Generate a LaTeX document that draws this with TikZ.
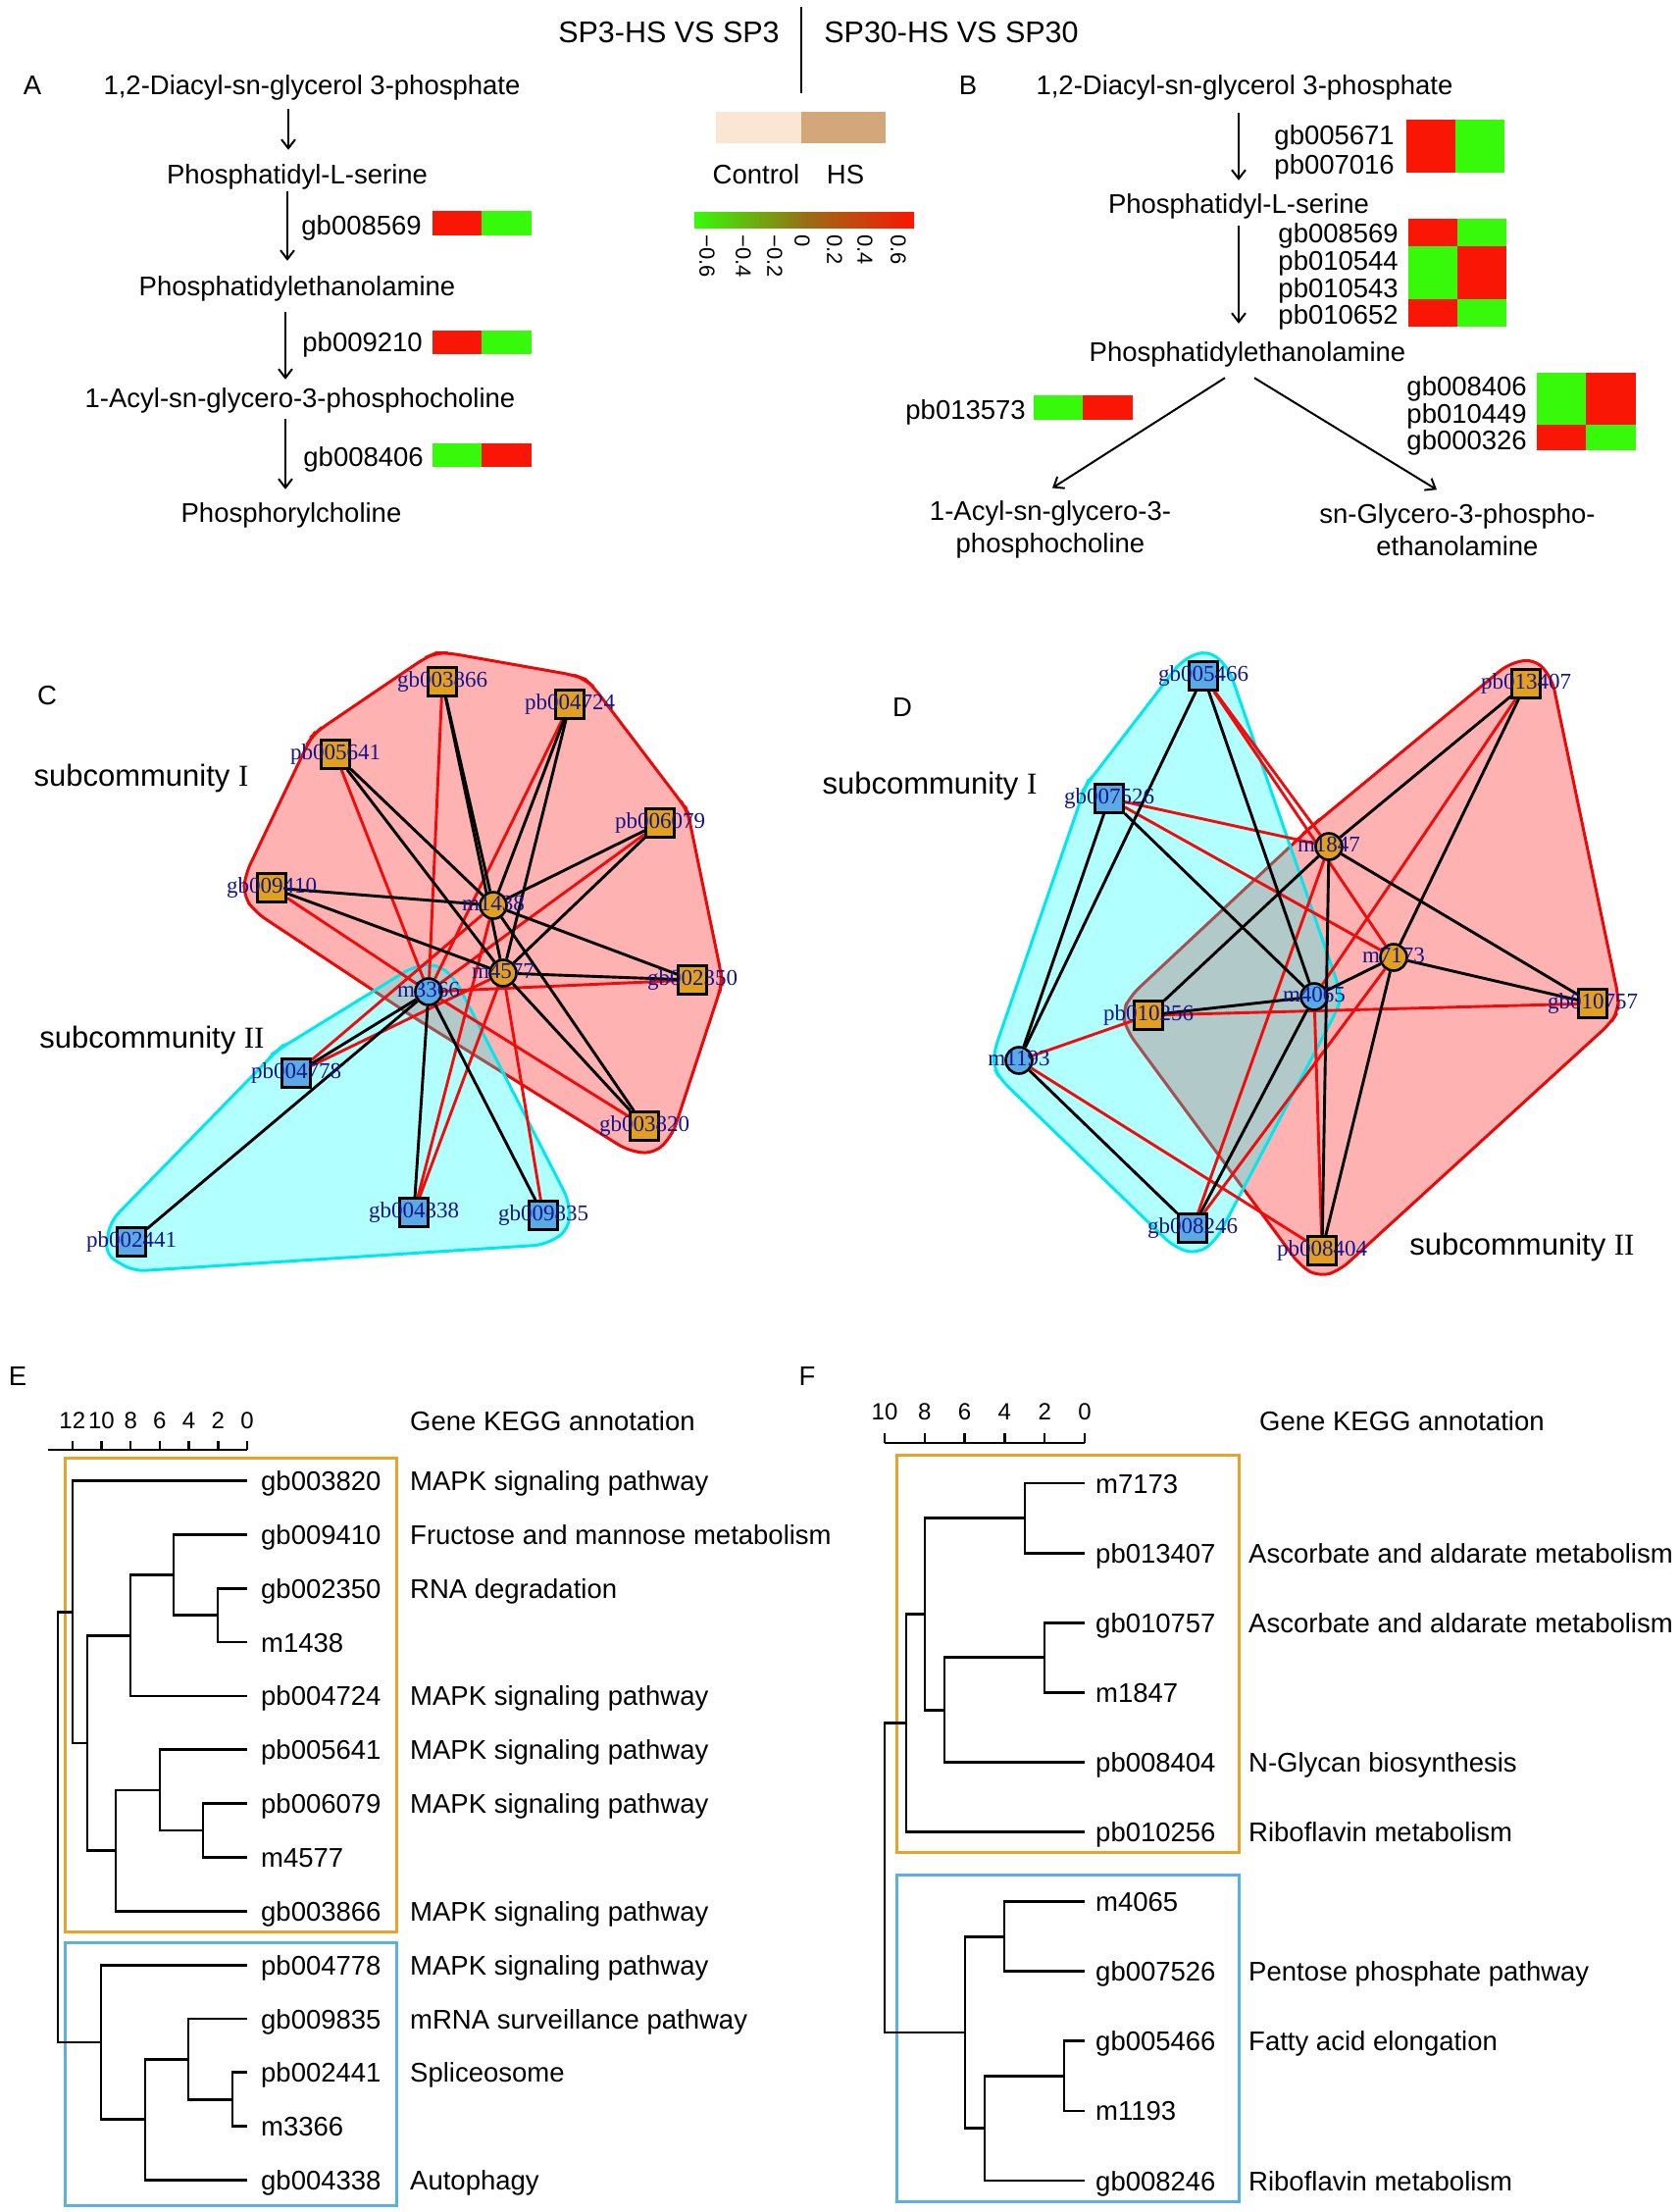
\documentclass[tikz,border=0pt]{standalone}
\usepackage{fontspec}
\setmainfont{Liberation Sans}
\newfontfamily\tms{Liberation Serif}
\usetikzlibrary{calc,arrows.meta}
\pgfdeclarelayer{bgw}
\pgfdeclarelayer{hulls}
\pgfdeclarelayer{edges}
\pgfsetlayers{bgw,hulls,edges,main}
\definecolor{hred}{RGB}{250,22,5}
\definecolor{hgreen}{RGB}{55,250,10}
\definecolor{gmid}{RGB}{150,112,20}
\definecolor{ctrlc}{RGB}{250,230,210}
\definecolor{hsc}{RGB}{211,167,122}
\definecolor{nodeor}{RGB}{226,160,32}
\definecolor{nodebl}{RGB}{90,170,230}
\definecolor{lblue}{RGB}{20,20,140}
\definecolor{boxor}{RGB}{232,163,40}
\definecolor{boxbl}{RGB}{90,176,224}
\definecolor{hullred}{RGB}{232,10,10}
\definecolor{hullcyan}{RGB}{0,232,238}
\definecolor{hullfr}{RGB}{255,0,0}
\definecolor{hullfc}{RGB}{0,255,255}
\definecolor{edgered}{RGB}{240,12,12}
\newcommand\hullpt[5]{%
  \coordinate (#1a) at ($(#3.center)!#5!-90:(#2.center)$);
  \coordinate (#1b) at ($(#3.center)!#5!90:(#4.center)$);
  \coordinate (#1m) at ($(#1a)!.5!(#1b)$);
  \coordinate (#1c) at ($(#3.center)!#5!(#1m)$);}
\begin{document}
\begin{tikzpicture}[x=1pt,y=-1pt,
  mt/.style={font=\fontsize{27.5}{33}\selectfont, inner sep=0pt, text height=20pt, text depth=6pt},
  ht/.style={font=\fontsize{30.5}{36}\selectfont, inner sep=0pt, text height=22pt, text depth=6pt},
  st/.style={font=\fontsize{31}{36}\selectfont, inner sep=0pt, text height=23pt, text depth=7pt},
  tk/.style={font=\fontsize{24}{28}\selectfont, inner sep=0pt, text height=17pt, text depth=0pt},
  ctk/.style={font=\fontsize{22}{26}\selectfont, inner sep=0pt, rotate=-90, anchor=west},
  arr/.style={line width=2pt, -{Straight Barb[length=9pt,width=14pt]}},
  nsq/.style={rectangle, draw=black, line width=2.6pt, minimum size=29pt, inner sep=0pt},
  ncr/.style={circle, draw=black, line width=2.6pt, minimum size=27pt, inner sep=0pt},
  orn/.style={fill=nodeor}, bln/.style={fill=nodebl},
  nl/.style={font=\tms\fontsize{23}{23}\selectfont, text=lblue, inner sep=0pt, text height=16pt, text depth=5pt},
  be/.style={line width=2.9pt, black},
  re/.style={line width=2.9pt, edgered},
  hr/.style={fill=hullfr, fill opacity=0.3, draw=hullred, line width=3pt, rounded corners=12pt},
  hc/.style={fill=hullfc, fill opacity=0.3, draw=hullcyan, line width=3pt, rounded corners=12pt},
  dl/.style={line width=2.8pt, black},
  bo/.style={draw=boxor, line width=3pt},
  bb/.style={draw=boxbl, line width=3pt}]
\useasboundingbox (0,0) rectangle (1713,2255);
\begin{pgfonlayer}{bgw}
\fill[white] (0,0) rectangle (1713,2255);
\end{pgfonlayer}

% ---------- header / legend ----------
\node[ht] (h1) at (682,35) {SP3-HS VS SP3};
\node[ht] (h2) at (970,35) {SP30-HS VS SP30};
\draw[line width=2.5pt] (817,7) -- (817,95);
\fill[ctrlc] (730,114) rectangle (817,146);
\fill[hsc] (817,114) rectangle (903,146);
\node[mt] (lc) at (771,180) {Control};
\node[mt] (lh) at (862,180) {HS};
\shade[left color=hgreen, right color=gmid] (708,216) rectangle (820,232);
\shade[left color=gmid, right color=hred] (819.5,216) rectangle (932,232);
\node[ctk] (t1) at (721,239) {−0.6};
\node[ctk] (t2) at (758,239) {−0.4};
\node[ctk] (t3) at (790,239) {−0.2};
\node[ctk] (t4) at (818,239) {0};
\node[ctk] (t5) at (851,239) {0.2};
\node[ctk] (t6) at (882,239) {0.4};
\node[ctk] (t7) at (916,239) {0.6};

% ---------- panel A ----------
\node[mt] (lA) at (33,89) {A};
\node[mt] (tA1) at (318,89) {1,2-Diacyl-sn-glycerol 3-phosphate};
\node[mt] (tA2) at (303,180) {Phosphatidyl-L-serine};
\node[mt] (tA3) at (303,294) {Phosphatidylethanolamine};
\node[mt] (tA4) at (306,408) {1-Acyl-sn-glycero-3-phosphocholine};
\node[mt] (tA5) at (297,525) {Phosphorylcholine};
\draw[arr] ($(tA1.south)+(-24,9)$) -- ($(tA2.north)+(-9,-14)$);
\draw[arr] ($(tA2.south)+(-10,2)$) -- ($(tA3.north)+(-10,-15)$);
\draw[arr] ($(tA3.south)+(-12,11)$) -- ($(tA4.north)+(-15,-8)$);
\draw[arr] ($(tA4.south)+(-15,6)$) -- ($(tA5.north)+(-6,-13)$);
\node[mt,anchor=east] (gA1) at (430,232) {gb008569};
\node[mt,anchor=east] (gA2) at (431,351) {pb009210};
\node[mt,anchor=east] (gA3) at (432,468) {gb008406};
\fill[hred] (441,215) rectangle (491,240); \fill[hgreen] (491,215) rectangle (542,240);
\fill[hred] (441,337) rectangle (491,361); \fill[hgreen] (491,337) rectangle (542,361);
\fill[hgreen] (441,452) rectangle (491,476); \fill[hred] (491,452) rectangle (542,476);

% ---------- panel B ----------
\node[mt] (lB) at (987,89) {B};
\node[mt] (tB1) at (1269,89) {1,2-Diacyl-sn-glycerol 3-phosphate};
\node[mt] (tB2) at (1263,210) {Phosphatidyl-L-serine};
\node[mt] (tB3) at (1272,361) {Phosphatidylethanolamine};
\node[mt,align=center,text height=,text depth=] (tB4) at (1071,540) {1-Acyl-sn-glycero-3-\\phosphocholine};
\node[mt,align=center,text height=,text depth=] (tB5) at (1486,540) {sn-Glycero-3-phospho-\\ethanolamine};
\draw[arr] ($(tB1.south)+(-6,13)$) -- ($(tB2.north)+(0,-13)$);
\draw[arr] ($(tB2.south)+(0,7)$) -- ($(tB3.north)+(-9,-18)$);
\draw[arr] ($(tB3.south)+(-23,11)$) -- ($(tB4.north)+(2,-13)$);
\draw[arr] ($(tB3.south)+(7,11)$) -- ($(tB5.north)+(-21,-14)$);
\node[mt,anchor=east] (gB1) at (1422,140) {gb005671};
\node[mt,anchor=east] (gB2) at (1422,170) {pb007016};
\fill[hred] (1434,122) rectangle (1484,176); \fill[hgreen] (1484,122) rectangle (1534,176);
\node[mt,anchor=east] (gB3) at (1426,240) {gb008569};
\node[mt,anchor=east] (gB4) at (1426,268) {pb010544};
\node[mt,anchor=east] (gB5) at (1426,296) {pb010543};
\node[mt,anchor=east] (gB6) at (1426,323) {pb010652};
\fill[hred] (1436,223) rectangle (1486,251); \fill[hgreen] (1486,223) rectangle (1536,251);
\fill[hgreen] (1436,251) rectangle (1486,278); \fill[hred] (1486,251) rectangle (1536,278);
\fill[hgreen] (1436,278) rectangle (1486,305); \fill[hred] (1486,278) rectangle (1536,305);
\fill[hred] (1436,305) rectangle (1486,333); \fill[hgreen] (1486,305) rectangle (1536,333);
\node[mt,anchor=east] (gB7) at (1046,420) {pb013573};
\fill[hgreen] (1054,403) rectangle (1104,428); \fill[hred] (1104,403) rectangle (1155,428);
\node[mt,anchor=east] (gB8) at (1557,396) {gb008406};
\node[mt,anchor=east] (gB9) at (1557,424) {pb010449};
\node[mt,anchor=east] (gB10) at (1557,451) {gb000326};
\fill[hgreen] (1567,380) rectangle (1617,406.5); \fill[hred] (1617,380) rectangle (1668,406.5);
\fill[hgreen] (1567,406.5) rectangle (1617,433); \fill[hred] (1617,406.5) rectangle (1668,433);
\fill[hred] (1567,433) rectangle (1617,459); \fill[hgreen] (1617,433) rectangle (1668,459);

% ---------- panel C ----------
\node[mt] (lC) at (48,711) {C};
\node[st] (sC1) at (144,793) {subcommunity {\tms I}};
\node[st] (sC2) at (155,1060) {subcommunity {\tms II}};
\node[nsq,orn,label={[nl]center:gb003866}] (gb003866) at (451,695) {};
\node[nsq,orn,label={[nl]center:pb004724}] (pb004724) at (581,718) {};
\node[nsq,orn,label={[nl]center:pb005641}] (pb005641) at (342,769) {};
\node[nsq,orn,label={[nl]center:pb006079}] (pb006079) at (673,839) {};
\node[nsq,orn,label={[nl]center:gb009410}] (gb009410) at (277,905) {};
\node[ncr,orn,label={[nl]center:m1438}] (m1438) at (503,923) {};
\node[ncr,orn,label={[nl]center:m4577}] (m4577) at (513,992) {};
\node[nsq,orn,label={[nl]center:gb002350}] (gb002350) at (706,999) {};
\node[ncr,bln,label={[nl]center:m3366}] (m3366) at (437,1011) {};
\node[nsq,bln,label={[nl]center:pb004778}] (pb004778) at (302,1094) {};
\node[nsq,orn,label={[nl]center:gb003820}] (gb003820) at (657,1148) {};
\node[nsq,bln,label={[nl]center:gb004338}] (gb004338) at (422,1236) {};
\node[nsq,bln,label={[nl]center:gb009835}] (gb009835) at (554,1239) {};
\node[nsq,bln,label={[nl]center:pb002441}] (pb002441) at (134,1266) {};

% ---------- panel D ----------
\node[mt] (lD) at (920,723) {D};
\node[st] (sD1) at (948,801) {subcommunity {\tms I}};
\node[st] (sD2) at (1552,1271) {subcommunity {\tms II}};
\node[nsq,bln,label={[nl]center:gb005466}] (gb005466) at (1227,689) {};
\node[nsq,orn,label={[nl]center:pb013407}] (pb013407) at (1556,697) {};
\node[nsq,bln,label={[nl]center:gb007526}] (gb007526) at (1131,814) {};
\node[ncr,orn,label={[nl]center:m1847}] (m1847) at (1355,863) {};
\node[ncr,orn,label={[nl]center:m7173}] (m7173) at (1421,976) {};
\node[ncr,bln,label={[nl]center:m4065}] (m4065) at (1340,1016) {};
\node[nsq,orn,label={[nl]center:gb010757}] (gb010757) at (1624,1023) {};
\node[nsq,orn,label={[nl]center:pb010256}] (pb010256) at (1171,1035) {};
\node[ncr,bln,label={[nl]center:m1193}] (m1193) at (1039,1081) {};
\node[nsq,bln,label={[nl]center:gb008246}] (gb008246) at (1216,1252) {};
\node[nsq,orn,label={[nl]center:pb008404}] (pb008404) at (1348,1275) {};

% ---------- edges ----------
\begin{pgfonlayer}{edges}
\foreach \a/\b in {m3366/gb003866, m3366/pb004724, m3366/pb005641, m3366/pb006079, m3366/gb009410, m3366/gb002350, m3366/gb003820, m1438/pb004778, m1438/gb004338, m4577/pb004778, m4577/gb004338, m4577/gb009835}
  \draw[re] (\a) -- (\b);
\foreach \a/\b in {m1438/gb003866, m1438/pb004724, m1438/pb005641, m1438/pb006079, m1438/gb009410, m1438/gb002350, m1438/gb003820, m4577/gb003866, m4577/pb004724, m4577/pb005641, m4577/pb006079, m4577/gb009410, m4577/gb002350, m4577/gb003820, m3366/pb004778, m3366/pb002441, m3366/gb004338, m3366/gb009835}
  \draw[be] (\a) -- (\b);
\foreach \a/\b in {gb005466/m1847, gb005466/m7173, gb007526/m1847, gb007526/m7173, m1193/pb010256, m1193/pb008404, pb010256/gb010757, m4065/pb008404, m1847/gb008246, m7173/gb008246, pb013407/m4065}
  \draw[re] (\a) -- (\b);
\foreach \a/\b in {gb005466/m1193, gb005466/m4065, gb007526/m1193, gb007526/m4065, m1847/pb013407, m1847/pb010256, m1847/gb010757, m1847/pb008404, m7173/pb013407, m7173/m4065, m7173/gb010757, m7173/pb008404, m4065/pb010256, m4065/gb008246, m1193/gb008246}
  \draw[be] (\a) -- (\b);
\end{pgfonlayer}

% ---------- hulls ----------
\begin{pgfonlayer}{hulls}
\hullpt{cr1}{pb005641}{gb003866}{pb004724}{30pt}
\hullpt{cr2}{gb003866}{pb004724}{pb006079}{30pt}
\hullpt{cr3}{pb004724}{pb006079}{gb002350}{30pt}
\hullpt{cr4}{pb006079}{gb002350}{gb003820}{30pt}
\hullpt{cr5}{gb002350}{gb003820}{m3366}{30pt}
\hullpt{cr6}{gb003820}{m3366}{gb009410}{30pt}
\hullpt{cr7}{m3366}{gb009410}{pb005641}{30pt}
\hullpt{cr8}{gb009410}{pb005641}{gb003866}{30pt}
\filldraw[hr] (cr1a) -- (cr1c) -- (cr1b) -- (cr2a) -- (cr2c) -- (cr2b) -- (cr3a) -- (cr3c) -- (cr3b) -- (cr4a) -- (cr4c) -- (cr4b) -- (cr5a) -- (cr5c) -- (cr5b) -- (cr6a) -- (cr6c) -- (cr6b) -- (cr7a) -- (cr7c) -- (cr7b) -- (cr8a) -- (cr8c) -- (cr8b) -- cycle;
\hullpt{cc1}{pb004778}{m3366}{gb009835}{30pt}
\hullpt{cc2}{m3366}{gb009835}{pb002441}{30pt}
\hullpt{cc3}{gb009835}{pb002441}{pb004778}{30pt}
\hullpt{cc4}{pb002441}{pb004778}{m3366}{30pt}
\filldraw[hc] (cc1a) -- (cc1c) -- (cc1b) -- (cc2a) -- (cc2c) -- (cc2b) -- (cc3a) -- (cc3c) -- (cc3b) -- (cc4a) -- (cc4c) -- (cc4b) -- cycle;
\hullpt{dr1}{m1847}{pb013407}{gb010757}{27pt}
\hullpt{dr2}{pb013407}{gb010757}{pb008404}{27pt}
\hullpt{dr3}{gb010757}{pb008404}{pb010256}{27pt}
\hullpt{dr4}{pb008404}{pb010256}{m1847}{27pt}
\hullpt{dr5}{pb010256}{m1847}{pb013407}{27pt}
\filldraw[hr] (dr1a) -- (dr1c) -- (dr1b) -- (dr2a) -- (dr2c) -- (dr2b) -- (dr3a) -- (dr3c) -- (dr3b) -- (dr4a) -- (dr4c) -- (dr4b) -- (dr5a) -- (dr5c) -- (dr5b) -- cycle;
\hullpt{dc1}{gb007526}{gb005466}{m4065}{27pt}
\hullpt{dc2}{gb005466}{m4065}{gb008246}{27pt}
\hullpt{dc3}{m4065}{gb008246}{m1193}{27pt}
\hullpt{dc4}{gb008246}{m1193}{gb007526}{27pt}
\hullpt{dc5}{m1193}{gb007526}{gb005466}{27pt}
\filldraw[hc] (dc1a) -- (dc1c) -- (dc1b) -- (dc2a) -- (dc2c) -- (dc2b) -- (dc3a) -- (dc3c) -- (dc3b) -- (dc4a) -- (dc4c) -- (dc4b) -- (dc5a) -- (dc5c) -- (dc5b) -- cycle;
\end{pgfonlayer}

% ---------- panel E ----------
\node[mt] (lE) at (18,1405) {E};
\draw[line width=2.5pt] (49,1478) -- (252,1478);
\foreach \v in {0,2,...,12} {
  \draw[line width=2.5pt] (252-14.85*\v,1478) -- (252-14.85*\v,1469);
  \node[tk] at (252-14.85*\v,1448) {\v};
}
\node[mt,anchor=west] (gkE) at (418,1451) {Gene KEGG annotation};
\draw[bo] (66,1486) rectangle (404,1969);
\draw[bb] (66,1980) rectangle (404,2248);
\foreach \n/\y/\t in {1/1509.5/gb003820, 2/1564.35/gb009410, 3/1619.2/gb002350, 4/1674.05/m1438, 5/1728.9/pb004724, 6/1783.75/pb005641, 7/1838.6/pb006079, 8/1893.45/m4577, 9/1948.3/gb003866, 10/2003.15/pb004778, 11/2058/gb009835, 12/2112.85/pb002441, 13/2167.7/m3366, 14/2222.55/gb004338}
  \node[mt,anchor=west] (eL\n) at (266,\y+3) {\t};
\foreach \n/\y/\t in {1/1509.5/MAPK signaling pathway, 2/1564.35/Fructose and mannose metabolism, 3/1619.2/RNA degradation, 5/1728.9/MAPK signaling pathway, 6/1783.75/MAPK signaling pathway, 7/1838.6/MAPK signaling pathway, 9/1948.3/MAPK signaling pathway, 10/2003.15/MAPK signaling pathway, 11/2058/mRNA surveillance pathway, 12/2112.85/Spliceosome, 14/2222.55/Autophagy}
  \node[mt,anchor=west] (eA\n) at (418,\y+3) {\t};
\draw[dl] (252,1619.2) -- (222,1619.2) -- (222,1674.05) -- (252,1674.05);
\draw[dl] (252,1564.35) -- (177,1564.35) -- (177,1646.6) -- (222,1646.6);
\draw[dl] (177,1605.5) -- (133,1605.5) -- (133,1728.9) -- (252,1728.9);
\draw[dl] (252,1838.6) -- (207,1838.6) -- (207,1893.45) -- (252,1893.45);
\draw[dl] (252,1783.75) -- (163,1783.75) -- (163,1866.0) -- (207,1866.0);
\draw[dl] (163,1824.9) -- (118,1824.9) -- (118,1948.3) -- (252,1948.3);
\draw[dl] (133,1667.2) -- (89,1667.2) -- (89,1886.6) -- (118,1886.6);
\draw[dl] (252,1509.5) -- (74,1509.5) -- (74,1776.9) -- (89,1776.9);
\draw[dl] (252,2112.85) -- (237,2112.85) -- (237,2167.7) -- (252,2167.7);
\draw[dl] (252,2058) -- (192,2058) -- (192,2140.3) -- (237,2140.3);
\draw[dl] (192,2099.1) -- (148,2099.1) -- (148,2222.55) -- (252,2222.55);
\draw[dl] (252,2003.15) -- (103,2003.15) -- (103,2160.8) -- (148,2160.8);
\draw[dl] (74,1643.2) -- (59,1643.2) -- (59,2082.0) -- (103,2082.0);

% ---------- panel F ----------
\node[mt] (lF) at (823,1405) {F};
\draw[line width=2.5pt] (902,1471) -- (1106,1471);
\foreach \v in {0,2,...,10} {
  \draw[line width=2.5pt] (1106-20.4*\v,1471) -- (1106-20.4*\v,1461);
  \node[tk] at (1106-20.4*\v,1439) {\v};
}
\node[mt,anchor=west] (gkF) at (1284,1451) {Gene KEGG annotation};
\draw[bo] (914,1483) rectangle (1263,1888);
\draw[bb] (914,1911) rectangle (1263,2244);
\foreach \n/\y/\t in {1/1512/m7173, 2/1583.1/pb013407, 3/1654.2/gb010757, 4/1725.3/m1847, 5/1796.4/pb008404, 6/1867.5/pb010256, 7/1938.6/m4065, 8/2009.7/gb007526, 9/2080.8/gb005466, 10/2151.9/m1193, 11/2223/gb008246}
  \node[mt,anchor=west] (fL\n) at (1117,\y+3) {\t};
\foreach \n/\y/\t in {2/1583.1/Ascorbate and aldarate metabolism, 3/1654.2/Ascorbate and aldarate metabolism, 5/1796.4/N-Glycan biosynthesis, 6/1867.5/Riboflavin metabolism, 8/2009.7/Pentose phosphate pathway, 9/2080.8/Fatty acid elongation, 11/2223/Riboflavin metabolism}
  \node[mt,anchor=west] (fA\n) at (1273,\y+3) {\t};
\draw[dl] (1106,1512) -- (1045,1512) -- (1045,1583.1) -- (1106,1583.1);
\draw[dl] (1106,1654.2) -- (1065,1654.2) -- (1065,1725.3) -- (1106,1725.3);
\draw[dl] (1065,1689.8) -- (963,1689.8) -- (963,1796.4) -- (1106,1796.4);
\draw[dl] (1045,1547.6) -- (943,1547.6) -- (943,1743.1) -- (963,1743.1);
\draw[dl] (943,1645.4) -- (924,1645.4) -- (924,1867.5) -- (1106,1867.5);
\draw[dl] (1106,1938.6) -- (1024,1938.6) -- (1024,2009.7) -- (1106,2009.7);
\draw[dl] (1106,2080.8) -- (1085,2080.8) -- (1085,2151.9) -- (1106,2151.9);
\draw[dl] (1085,2116.4) -- (1004,2116.4) -- (1004,2223) -- (1106,2223);
\draw[dl] (1024,1974.2) -- (984,1974.2) -- (984,2169.7) -- (1004,2169.7);
\draw[dl] (924,1756.5) -- (902,1756.5) -- (902,2072) -- (984,2072);
\end{tikzpicture}
\end{document}
